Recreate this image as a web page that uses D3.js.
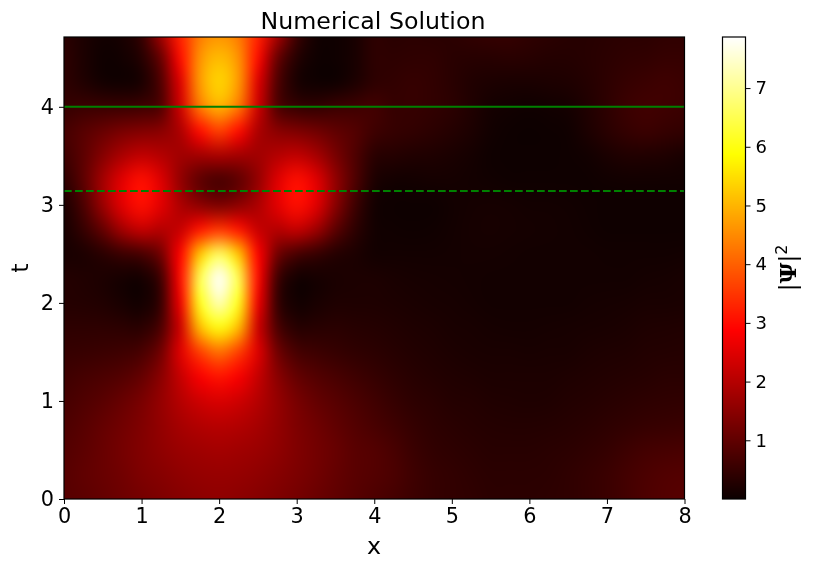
<!DOCTYPE html>
<html>
<head>
<meta charset="utf-8">
<script src="https://cdn.jsdelivr.net/npm/d3@7"></script>
<style>
body { margin: 0; background: #fff; }
#wrap { position: relative; width: 816px; height: 568px; overflow: hidden; }
canvas, svg { position: absolute; left: 0; top: 0; }
text { font-family: "DejaVu Sans"; fill: #000; }
</style>
</head>
<body>
<div id="wrap"><canvas id="heat" width="816" height="568"></canvas></div>
<script>
// |psi|^2, one row per t, x = 0, 0.25 ... 8
var xs = [0,.25,.5,.75,1,1.25,1.5,1.75,2,2.25,2.5,2.75,3,3.25,3.5,3.75,4,4.25,4.5,4.75,5,5.25,5.5,5.75,6,6.25,6.5,6.75,7,7.25,7.5,7.75,8]
var ts = [0,.25,.5,.75,1,1.25,1.5,1.75,2,2.25,2.5,2.75,3,3.25,3.5,3.75,4,4.25,4.5,4.75]
var psi = [
 [.9,.95,1.05,1.15,1.25,1.35,1.45,1.52,1.57,1.52,1.45,1.35,1.25,1.12,1.0,.88,.78,.68,.58,.5,.45,.42,.38,.38,.38,.4,.42,.48,.55,.66,.78,.85,.9],
 [.9,1.0,1.1,1.2,1.35,1.45,1.55,1.62,1.65,1.62,1.55,1.45,1.33,1.2,1.05,.92,.85,.75,.6,.5,.45,.4,.36,.36,.36,.38,.42,.48,.55,.66,.75,.82,.85],
 [.85,.95,1.1,1.25,1.4,1.55,1.68,1.76,1.8,1.76,1.68,1.55,1.38,1.22,1.08,.92,.85,.72,.55,.45,.4,.36,.33,.33,.33,.35,.38,.42,.48,.58,.66,.7,.72],
 [.78,.9,1.05,1.2,1.38,1.6,1.82,1.97,2.03,1.97,1.82,1.6,1.35,1.18,1.0,.85,.72,.6,.48,.4,.35,.32,.3,.28,.28,.3,.32,.35,.4,.45,.5,.52,.54],
 [.7,.8,.92,1.08,1.3,1.62,2.0,2.3,2.42,2.3,2.0,1.62,1.28,1.05,.9,.75,.62,.5,.4,.35,.3,.28,.25,.24,.22,.24,.27,.3,.33,.36,.4,.42,.44],
 [.6,.68,.75,.85,1.05,1.5,2.2,2.8,3.1,2.8,2.2,1.5,1.05,.85,.72,.6,.5,.4,.33,.28,.25,.22,.2,.2,.2,.2,.22,.25,.27,.3,.32,.35,.35],
 [.5,.52,.55,.6,.72,1.2,2.5,3.6,4.2,3.6,2.5,1.2,.7,.58,.5,.42,.38,.32,.27,.24,.2,.18,.17,.16,.15,.16,.17,.2,.22,.24,.27,.28,.3],
 [.4,.4,.4,.38,.35,.75,2.3,5.1,6.0,5.1,2.3,.75,.32,.33,.35,.32,.3,.26,.22,.2,.17,.15,.13,.12,.12,.13,.14,.15,.17,.19,.22,.23,.25],
 [.3,.28,.25,.15,.08,.5,2.7,6.1,7.3,6.1,2.7,.5,.08,.15,.22,.22,.22,.2,.18,.15,.14,.12,.1,.1,.1,.1,.1,.12,.13,.14,.16,.17,.18],
 [.28,.25,.2,.12,.1,.6,3.0,6.5,7.85,6.5,3.0,.6,.08,.12,.18,.2,.2,.16,.14,.13,.12,.11,.1,.09,.09,.09,.1,.1,.1,.1,.12,.13,.15],
 [.15,.2,.35,.55,.7,1.2,2.9,5.2,6.6,5.2,2.9,1.2,.7,.5,.3,.2,.1,.1,.1,.1,.11,.12,.12,.11,.1,.1,.1,.09,.08,.08,.08,.08,.1],
 [.15,.5,1.05,1.8,2.2,2.0,2.2,3.1,3.5,3.1,2.2,2.0,2.2,1.75,.95,.4,.1,.06,.05,.06,.1,.13,.14,.13,.12,.11,.1,.07,.05,.05,.05,.05,.05],
 [.2,.75,1.7,2.55,3.05,2.55,1.9,1.5,1.3,1.5,1.9,2.55,3.05,2.55,1.5,.6,.1,.04,.03,.04,.08,.12,.13,.12,.1,.09,.08,.06,.05,.05,.05,.05,.05],
 [.4,.95,1.8,2.55,3.05,2.5,1.6,.95,.7,.95,1.6,2.5,3.05,2.55,1.6,.8,.2,.1,.1,.12,.12,.1,.07,.05,.05,.05,.05,.05,.07,.08,.08,.08,.08],
 [.6,.95,1.45,1.9,2.15,2.0,1.75,1.75,1.85,1.75,1.75,2.0,2.15,1.85,1.3,.8,.35,.3,.25,.22,.18,.12,.05,.03,.03,.03,.05,.08,.18,.25,.25,.22,.15],
 [.7,.9,1.1,1.3,1.4,1.5,1.9,3.0,3.6,3.0,1.9,1.5,1.35,1.2,1.0,.85,.6,.5,.45,.38,.3,.2,.08,.03,.02,.03,.06,.2,.35,.48,.55,.5,.45],
 [.5,.55,.55,.55,.6,.8,2.3,4.3,5.0,4.3,2.3,.8,.5,.45,.55,.6,.65,.5,.5,.45,.38,.25,.12,.08,.06,.08,.12,.25,.4,.55,.62,.6,.55],
 [.4,.25,.1,.06,.15,.8,2.5,4.7,5.4,4.7,2.5,.8,.15,.05,.05,.2,.4,.45,.5,.45,.35,.25,.2,.18,.18,.2,.22,.3,.4,.5,.55,.6,.55],
 [.4,.2,.05,.08,.3,1.1,3.0,4.6,5.1,4.6,3.0,1.1,.3,.05,.05,.15,.4,.4,.42,.42,.35,.33,.33,.35,.33,.3,.3,.33,.38,.42,.45,.5,.5],
 [.35,.2,.1,.15,.5,1.8,3.3,4.3,4.6,4.3,3.3,1.9,.6,.1,.05,.15,.4,.35,.38,.35,.38,.45,.5,.5,.42,.38,.33,.32,.35,.38,.38,.42,.42]
]
var xTicks = [0,1,2,3,4,5,6,7,8]
var tTicks = [0,1,2,3,4]
var cbTicks = [1,2,3,4,5,6,7]
var vMin = 0.0
var vMax = 7.87
var tMax = 4.712
var lines = [{t: 4, dash: null}, {t: Math.PI, dash: "7.7,3.3"}]

var left = 64, right = 684.5, top_ = 499, bottom_ = 37
var cbLeft = 722.5, cbRight = 745.5

var x = d3.scaleLinear().domain([0,8]).range([left,right])
var y = d3.scaleLinear().domain([0,tMax]).range([top_,bottom_])
var cb = d3.scaleLinear().domain([vMin,vMax]).range([top_,bottom_])

// matplotlib hot
var hot = d3.scaleLinear()
	.domain([0,.365079,.746032,1].map(function(d){return vMin+d*(vMax-vMin)}))
	.range(["#0b0000","#ff0000","#ffff00","#ffffff"])
	.clamp(true)

// small image, one pixel per grid point, let the browser smooth it when scaled
var small = document.createElement("canvas")
small.width = xs.length
small.height = ts.length
var sctx = small.getContext("2d")
psi.forEach(function(row,j){
	row.forEach(function(v,i){
		sctx.fillStyle = hot(v)
		sctx.fillRect(i,ts.length-1-j,1,1)
	})
})
var ctx = document.getElementById("heat").getContext("2d")
ctx.save()
ctx.beginPath()
ctx.rect(left,bottom_,right-left,top_-bottom_)
ctx.clip()
ctx.imageSmoothingEnabled = true
ctx.imageSmoothingQuality = "high"
var dx = (xs[1]-xs[0])/2, dt = (ts[1]-ts[0])/2
ctx.drawImage(small, x(-dx), y(ts[ts.length-1]+dt), x(8+dx)-x(-dx), y(-dt)-y(ts[ts.length-1]+dt))
ctx.restore()

var svg = d3.select("#wrap").append("svg").attr("width",816).attr("height",568)

svg.selectAll("line.level")
	.data(lines)
	.enter()
	.append("line")
	.attr("class","level")
	.attr("x1",left).attr("x2",right)
	.attr("y1",function(d){return y(d.t)})
	.attr("y2",function(d){return y(d.t)})
	.attr("stroke","#008000")
	.attr("stroke-width",2)
	.attr("stroke-dasharray",function(d){return d.dash})

svg.append("rect")
	.attr("x",left).attr("y",bottom_)
	.attr("width",right-left).attr("height",top_-bottom_)
	.attr("fill","none").attr("stroke","#000").attr("stroke-width",1.2)

var xAxis = d3.axisBottom(x).tickValues(xTicks).tickFormat(d3.format("d")).tickSize(5).tickPadding(4)
var yAxis = d3.axisLeft(y).tickValues(tTicks).tickFormat(d3.format("d")).tickSize(5).tickPadding(5)
var gx = svg.append("g").attr("transform","translate(0,"+top_+")").call(xAxis)
var gy = svg.append("g").attr("transform","translate("+left+",0)").call(yAxis)
gx.select(".domain").remove()
gy.select(".domain").remove()
gx.selectAll("text").style("font-size","20.8px")
gy.selectAll("text").style("font-size","20.8px")

svg.append("text").attr("x",373).attr("y",29).attr("text-anchor","middle").style("font-size","23.7px").text("Numerical Solution")
svg.append("text").attr("x",374).attr("y",554).attr("text-anchor","middle").style("font-size","23.7px").text("x")
svg.append("text").attr("transform","translate(28,268) rotate(-90)").attr("text-anchor","middle").style("font-size","23.7px").text("t")

// colorbar, one row per pixel
var steps = d3.range(bottom_,top_)
svg.selectAll("rect.cb")
	.data(steps)
	.enter()
	.append("rect")
	.attr("class","cb")
	.attr("x",cbLeft)
	.attr("width",cbRight-cbLeft)
	.attr("y",function(d){return d})
	.attr("height",1)
	.attr("shape-rendering","crispEdges")
	.attr("fill",function(d){return hot(cb.invert(d+.5))})
svg.append("rect")
	.attr("x",cbLeft).attr("y",bottom_)
	.attr("width",cbRight-cbLeft).attr("height",top_-bottom_)
	.attr("fill","none").attr("stroke","#000").attr("stroke-width",1.2)
var cbAxis = d3.axisRight(cb).tickValues(cbTicks).tickFormat(d3.format("d")).tickSize(5).tickPadding(5)
var gc = svg.append("g").attr("transform","translate("+cbRight+",0)").call(cbAxis)
gc.select(".domain").remove()
gc.selectAll("text").style("font-size","18px")

var lab = svg.append("text").attr("transform","translate(796,268) rotate(-90)").attr("text-anchor","middle")
	.style("font-family","'DejaVu Serif'").style("font-size","23px")
lab.append("tspan").style("font-family","'DejaVu Sans'").text("|")
lab.append("tspan").style("font-weight","bold").text("Ψ")
lab.append("tspan").style("font-family","'DejaVu Sans'").text("|")
lab.append("tspan").attr("dy",-9).style("font-size","16px").style("font-family","'DejaVu Sans'").text("2")
</script>
</body>
</html>
